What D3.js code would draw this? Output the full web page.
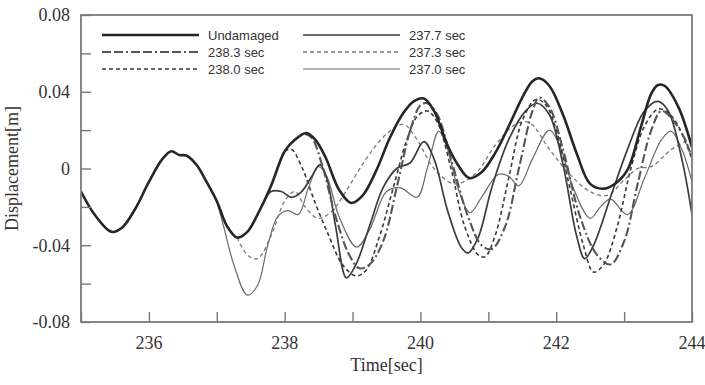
<!DOCTYPE html>
<html lang="en">
<head>
<meta charset="UTF-8">
<title>Displacement vs time</title>
<script src="https://d3js.org/d3.v7.min.js"></script>
<style>
    html, body { margin: 0; padding: 0; background: #fff; }
    svg { display: block; }
    .legend-text { font-family: 'Liberation Sans', Arial, sans-serif; font-size: 13px; fill: #333; }
</style>
</head>
<body>
<div class="content"></div>
<script>
    // time [sec], displacement [m]
    const undamaged = [
        [235.0, -0.012], [235.2, -0.024], [235.45, -0.033], [235.6, -0.031], [235.8, -0.021],
        [236.0, -0.007], [236.2, 0.005], [236.33, 0.009], [236.45, 0.007], [236.55, 0.0068],
        [236.7, 0.002], [236.85, -0.007], [237.0, -0.017], [237.15, -0.030], [237.3, -0.036],
        [237.45, -0.033], [237.6, -0.024], [237.8, -0.009], [238.0, 0.009], [238.15, 0.015],
        [238.32, 0.0185], [238.45, 0.015], [238.6, 0.006], [238.8, -0.011], [238.98, -0.018],
        [239.15, -0.014], [239.35, -0.001], [239.55, 0.016], [239.75, 0.029], [239.9, 0.035],
        [240.05, 0.0365], [240.2, 0.030], [240.4, 0.012], [240.55, 0.002], [240.72, -0.005],
        [240.9, -0.002], [241.1, 0.008], [241.3, 0.022], [241.5, 0.037], [241.65, 0.0455],
        [241.75, 0.047], [241.9, 0.043], [242.1, 0.028], [242.3, 0.008], [242.5, -0.008],
        [242.7, -0.0105], [242.9, -0.007], [243.06, 0.0], [243.25, 0.022], [243.4, 0.039],
        [243.5, 0.0435], [243.6, 0.043], [243.8, 0.032], [244.0, 0.011]
    ];
    const dmg2383 = [
        [238.3, 0.018], [238.4, 0.016], [238.55, 0.002], [238.75, -0.025], [238.95, -0.045],
        [239.1, -0.052], [239.25, -0.050], [239.45, -0.038], [239.65, -0.010], [239.85, 0.020],
        [240.0, 0.033], [240.1, 0.034], [240.25, 0.028], [240.45, 0.005], [240.7, -0.025],
        [240.9, -0.040], [241.05, -0.042], [241.25, -0.030], [241.45, 0.0], [241.65, 0.030],
        [241.75, 0.037], [241.9, 0.032], [242.1, 0.010], [242.35, -0.025], [242.6, -0.045],
        [242.8, -0.050], [243.0, -0.038], [243.2, -0.008], [243.4, 0.020], [243.55, 0.030],
        [243.7, 0.026], [243.9, 0.015], [244.0, 0.005]
    ];
    const dmg2380 = [
        [238.0, 0.009], [238.1, 0.010], [238.25, 0.001], [238.45, -0.018], [238.65, -0.035],
        [238.85, -0.050], [239.05, -0.056], [239.2, -0.053], [239.4, -0.035], [239.6, -0.010],
        [239.8, 0.015], [239.95, 0.027], [240.1, 0.030], [240.25, 0.024], [240.45, 0.0],
        [240.65, -0.030], [240.85, -0.045], [240.95, -0.046], [241.1, -0.035], [241.3, -0.005],
        [241.5, 0.025], [241.7, 0.036], [241.85, 0.033], [242.0, 0.020], [242.2, -0.010],
        [242.4, -0.040], [242.55, -0.054], [242.7, -0.050], [242.9, -0.030], [243.1, 0.0],
        [243.3, 0.022], [243.5, 0.031], [243.65, 0.029], [243.8, 0.022], [244.0, 0.005]
    ];
    const dmg2377 = [
        [237.7, -0.017], [237.8, -0.012], [237.95, -0.012], [238.1, -0.015], [238.25, -0.012],
        [238.4, -0.004], [238.52, 0.002], [238.62, -0.005], [238.75, -0.030], [238.91, -0.057],
        [239.05, -0.050], [239.25, -0.030], [239.45, -0.010], [239.65, 0.0], [239.85, 0.003],
        [240.05, 0.014], [240.2, 0.005], [240.4, -0.022], [240.6, -0.041], [240.7, -0.044],
        [240.85, -0.036], [241.05, -0.010], [241.3, 0.015], [241.55, 0.030], [241.72, 0.034],
        [241.9, 0.028], [242.1, 0.002], [242.3, -0.035], [242.42, -0.047], [242.55, -0.040],
        [242.8, -0.015], [243.05, 0.010], [243.3, 0.030], [243.5, 0.035], [243.65, 0.030],
        [243.85, 0.005], [244.0, -0.024]
    ];
    const dmg2373 = [
        [237.3, -0.036], [237.45, -0.045], [237.6, -0.047], [237.8, -0.035], [238.0, -0.017],
        [238.15, -0.012], [238.3, -0.020], [238.5, -0.026], [238.7, -0.022], [238.9, -0.012],
        [239.2, 0.005], [239.5, 0.018], [239.75, 0.023], [239.95, 0.015], [240.2, 0.0],
        [240.5, -0.008], [240.8, -0.003], [241.1, 0.012], [241.4, 0.023], [241.6, 0.024],
        [241.9, 0.010], [242.2, -0.003], [242.5, -0.012], [242.75, -0.014], [243.0, -0.006],
        [243.2, 0.0], [243.4, 0.001], [243.7, 0.010], [244.0, 0.016]
    ];
    const dmg2370 = [
        [237.0, -0.017], [237.1, -0.030], [237.25, -0.050], [237.45, -0.066], [237.6, -0.061],
        [237.75, -0.040], [237.9, -0.025], [238.05, -0.022], [238.2, -0.024], [238.35, -0.010],
        [238.5, 0.001], [238.62, -0.004], [238.8, -0.025], [239.06, -0.041], [239.25, -0.032],
        [239.5, -0.012], [239.7, -0.010], [239.95, -0.015], [240.1, 0.0], [240.27, 0.0195],
        [240.4, 0.010], [240.55, -0.010], [240.73, -0.023], [240.9, -0.015], [241.15, -0.003],
        [241.3, -0.004], [241.45, -0.009], [241.65, 0.005], [241.9, 0.020], [242.05, 0.012],
        [242.25, -0.010], [242.5, -0.026], [242.65, -0.020], [242.8, -0.016], [243.05, -0.024],
        [243.3, -0.005], [243.55, 0.015], [243.69, 0.0195], [243.85, 0.010], [244.0, -0.007]
    ];

    const xTicks = [235, 236, 237, 238, 239, 240, 241, 242, 243, 244];
    const xLabels = [236, 238, 240, 242, 244];
    const yTicks = [-0.08, -0.06, -0.04, -0.02, 0, 0.02, 0.04, 0.06, 0.08];
    const yLabels = ["-0.08", "-0.04", "0", "0.04", "0.08"];

    // legend is laid out in two columns like the original figure
    const series = [
        { name: "Undamaged", data: undamaged, color: "#262626", width: 2.6, dash: null, col: 0, row: 0 },
        { name: "238.3 sec", data: dmg2383, color: "#555", width: 2.1, dash: "9,3,9,3,2,3", col: 0, row: 1 },
        { name: "238.0 sec", data: dmg2380, color: "#3a3a3a", width: 1.6, dash: "4,3", col: 0, row: 2 },
        { name: "237.7 sec", data: dmg2377, color: "#3c3c3c", width: 1.7, dash: null, col: 1, row: 0 },
        { name: "237.3 sec", data: dmg2373, color: "#7a7a7a", width: 1.3, dash: "4,3", col: 1, row: 1 },
        { name: "237.0 sec", data: dmg2370, color: "#6a6a6a", width: 1.2, dash: null, col: 1, row: 2 }
    ];

    const serif = "'Liberation Serif', 'Times New Roman', Times, serif";

    const w = 705;
    const h = 385;
    const plot = { left: 81, right: 692, top: 15, bottom: 322 };

    const x = d3.scaleLinear().domain([235, 244]).range([plot.left, plot.right]);
    const y = d3.scaleLinear().domain([-0.08, 0.08]).range([plot.bottom, plot.top]);

    const svg = d3.select(".content")
        .append("svg")
        .attr("width", w)
        .attr("height", h);

    svg.append("clipPath").attr("id", "plot-clip")
        .append("rect")
        .attr("x", plot.left)
        .attr("y", plot.top)
        .attr("width", plot.right - plot.left)
        .attr("height", plot.bottom - plot.top);

    const line = d3.line()
        .x(d => x(d[0]))
        .y(d => y(d[1]))
        .curve(d3.curveCatmullRom.alpha(0.5));

    // damaged first, undamaged on top
    const drawOrder = [5, 4, 3, 2, 1, 0];
    const lines = svg.append("g").attr("clip-path", "url(#plot-clip)");
    drawOrder.forEach(i => {
        const s = series[i];
        lines.append("path")
            .datum(s.data)
            .attr("d", line)
            .attr("fill", "none")
            .attr("stroke", s.color)
            .attr("stroke-width", s.width)
            .attr("stroke-dasharray", s.dash)
            .attr("stroke-linejoin", "round");
    });

    // axes with inward ticks
    const tickLen = 10;
    const xAxis = d3.axisTop(x).tickValues(xTicks).tickSize(tickLen).tickFormat("");
    const yAxis = d3.axisRight(y).tickValues(yTicks).tickSize(tickLen).tickFormat("");

    svg.append("g")
        .attr("transform", `translate(0,${plot.bottom})`)
        .call(xAxis)
        .call(g => g.select(".domain").remove())
        .selectAll("line").attr("stroke", "#777").attr("stroke-width", 1.4);

    svg.append("g")
        .attr("transform", `translate(${plot.left},0)`)
        .call(yAxis)
        .call(g => g.select(".domain").remove())
        .selectAll("line").attr("stroke", "#777").attr("stroke-width", 1.4);

    svg.append("rect")
        .attr("x", plot.left)
        .attr("y", plot.top)
        .attr("width", plot.right - plot.left)
        .attr("height", plot.bottom - plot.top)
        .attr("fill", "none")
        .attr("stroke", "#7a7a7a")
        .attr("stroke-width", 1.8);

    svg.selectAll("text.xlab")
        .data(xLabels)
        .enter()
        .append("text")
        .attr("class", "xlab")
        .attr("x", d => x(d))
        .attr("y", 349)
        .attr("text-anchor", "middle")
        .style("font-family", serif)
        .style("font-size", "18px")
        .style("fill", "#333")
        .text(d => d);

    // plain hyphen minus like the original, not the unicode minus
    svg.selectAll("text.ylab")
        .data(yLabels)
        .enter()
        .append("text")
        .attr("class", "ylab")
        .attr("x", 70)
        .attr("y", d => y(+d))
        .attr("dy", "0.35em")
        .attr("text-anchor", "end")
        .style("font-family", serif)
        .style("font-size", "18px")
        .style("fill", "#333")
        .text(d => d);

    svg.append("text")
        .attr("x", (plot.left + plot.right) / 2)
        .attr("y", 371)
        .attr("text-anchor", "middle")
        .style("font-family", serif)
        .style("font-size", "18px")
        .style("fill", "#333")
        .text("Time[sec]");

    svg.append("text")
        .attr("transform", `translate(18,${(plot.top + plot.bottom) / 2}) rotate(-90)`)
        .attr("text-anchor", "middle")
        .style("font-family", serif)
        .style("font-size", "18px")
        .style("fill", "#333")
        .text("Displacement[m]");

    // legend
    const legX = [102, 303];
    const legLine = 97;
    const legY = [35, 52, 69];
    const legend = svg.append("g");
    series.forEach(s => {
        const lx = legX[s.col];
        const ly = legY[s.row];
        legend.append("line")
            .attr("x1", lx)
            .attr("x2", lx + legLine)
            .attr("y1", ly)
            .attr("y2", ly)
            .attr("stroke", s.color)
            .attr("stroke-width", s.width)
            .attr("stroke-dasharray", s.dash);
        legend.append("text")
            .attr("class", "legend-text")
            .attr("x", lx + legLine + 9)
            .attr("y", ly)
            .attr("dy", "0.35em")
            .text(s.name);
    });
</script>
</body>
</html>
